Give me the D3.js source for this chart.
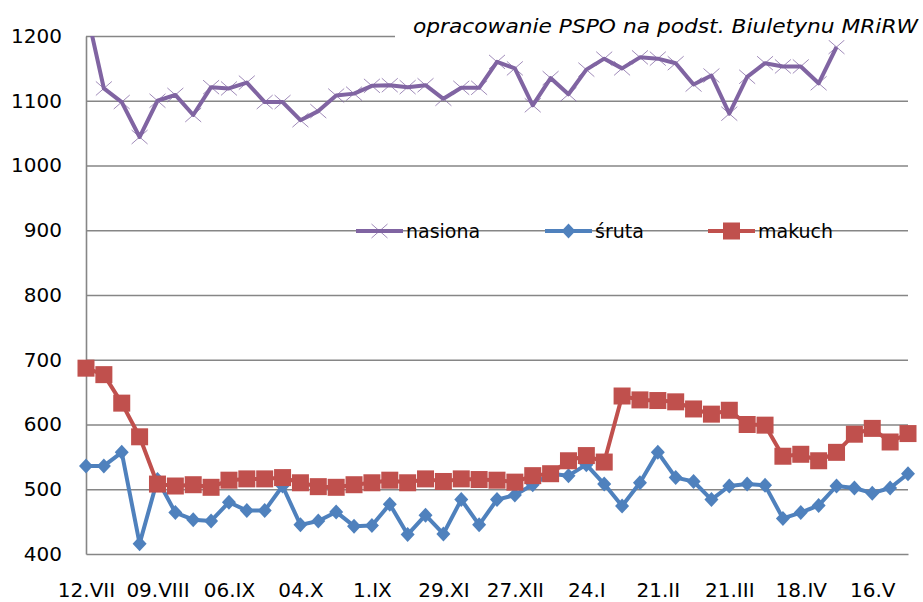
<!DOCTYPE html>
<html>
<head>
<meta charset="utf-8">
<script src="https://cdnjs.cloudflare.com/ajax/libs/d3/7.8.5/d3.min.js"></script>
<style>
    html, body { margin: 0; padding: 0; background: #fff; }
    #chart { width: 923px; height: 602px; }
    text { font-family: "DejaVu Sans", sans-serif; fill: #000; }
</style>
</head>
<body>
<div id="chart"></div>
<script>
'use strict';

// tick labels, one for every 4th weekly quotation
const weekLabels = ["12.VII", "09.VIII", "06.IX", "04.X", "1.IX", "29.XI", "27.XII", "24.I", "21.II", "21.III", "18.IV", "16.V"];
const yTicks = [400, 500, 600, 700, 800, 900, 1000, 1100, 1200];

// weekly prices (zl/t)
const nasiona = [1243, 1119, 1098, 1044, 1100, 1109, 1078, 1121, 1119, 1128, 1098, 1098, 1070, 1084, 1108, 1111,
    1123, 1124, 1121, 1124, 1103, 1120, 1120, 1160, 1150, 1093, 1135, 1110, 1148, 1165, 1150, 1167, 1165, 1158,
    1125, 1139, 1080, 1137, 1158, 1153, 1153, 1127, 1183];
const sruta = [536, 536, 557, 416, 515, 464, 453, 451, 480, 467, 467, 505, 445, 451, 465, 443, 444, 477, 430, 460,
    431, 484, 445, 484, 491, 507, 524, 521, 538, 508, 474, 510, 557, 518, 512, 484, 505, 508, 506, 455, 464, 475,
    505, 502, 494, 502, 524];
const makuch = [687, 677, 633, 581, 508, 505, 507, 503, 514, 516, 516, 518, 510, 504, 503, 507, 510, 514, 510, 516,
    512, 516, 515, 514, 511, 521, 524, 544, 552, 542, 644, 638, 637, 635, 624, 616, 622, 600, 599, 551, 554, 544,
    557, 585, 594, 573, 586];

const nWeeks = sruta.length;

const series = [
    { name: "nasiona", values: nasiona, color: "#8064A2", marker: "x" },
    { name: "śruta", values: sruta, color: "#4F81BD", marker: "diamond" },
    { name: "makuch", values: makuch, color: "#C0504D", marker: "square" }
];

const originalWidth = 923, originalHeight = 602;
const margin = { top: 36, right: 15, bottom: 48, left: 86 };
const width = originalWidth - margin.left - margin.right,
    height = originalHeight - margin.top - margin.bottom;

const svg = d3.select("#chart")
    .append("svg")
    .attr("width", originalWidth)
    .attr("height", originalHeight);

const rootG = svg.append("g")
    .attr("transform", "translate(" + margin.left + "," + margin.top + ")");

// scales
const xScale = d3.scaleLinear().domain([0, nWeeks - 1]).range([0, width]);
const yScale = d3.scaleLinear().domain([400, 1200]).range([height, 0]);

// grid
rootG.append("g")
    .attr("class", "grid")
    .call(d3.axisLeft(yScale).tickValues(yTicks.slice(1)).tickSize(-width).tickFormat(""))
    .call(g => g.select(".domain").remove())
    .call(g => g.selectAll("line").attr("stroke", "#868686").attr("stroke-width", 1.6));

// axes
rootG.append("g")
    .attr("class", "y axis")
    .call(d3.axisLeft(yScale).tickValues(yTicks).tickSize(0).tickPadding(24).tickFormat(d3.format("d")))
    .call(g => g.select(".domain").attr("stroke", "#868686").attr("stroke-width", 1.6))
    .call(g => g.selectAll("text").style("font-size", "20px").style("font-family", "DejaVu Sans"));

rootG.append("g")
    .attr("class", "x axis")
    .attr("transform", "translate(0," + height + ")")
    .call(d3.axisBottom(xScale)
        .tickValues(d3.range(0, nWeeks, 4))
        .tickSize(0)
        .tickPadding(29)
        .tickFormat(i => weekLabels[i / 4]))
    .call(g => g.select(".domain").attr("stroke", "#868686").attr("stroke-width", 1.6))
    .call(g => g.selectAll("text").style("font-size", "20px").style("font-family", "DejaVu Sans"));

// title box sits over the top grid line
svg.append("rect")
    .attr("x", 395).attr("y", 0)
    .attr("width", originalWidth - 395).attr("height", 40)
    .attr("fill", "#fff");
svg.append("text")
    .attr("x", 918).attr("y", 33)
    .attr("text-anchor", "end")
    .attr("textLength", 505)
    .attr("lengthAdjust", "spacingAndGlyphs")
    .style("font-size", "20px")
    .style("font-style", "italic")
    .text("opracowanie PSPO na podst. Biuletynu MRiRW");

// clip at the top of the plot area (first seed price is off the scale)
svg.append("defs").append("clipPath")
    .attr("id", "plotClip")
    .append("rect")
    .attr("x", -margin.left).attr("y", 0)
    .attr("width", originalWidth).attr("height", originalHeight);

const line = d3.line()
    .x((d, i) => xScale(i))
    .y(d => yScale(d));

function drawMarker(g, type, color) {
    if (type === "x") {
        g.append("path")
            .attr("d", "M-8,-7L8,7M-8,7L8,-7")
            .attr("stroke", color)
            .attr("stroke-opacity", 0.75)
            .attr("stroke-width", 1)
            .attr("fill", "none");
    } else if (type === "diamond") {
        g.append("path")
            .attr("d", "M0,-7.5L7,0L0,7.5L-7,0Z")
            .attr("fill", color);
    } else {
        g.append("rect")
            .attr("x", -8.5).attr("y", -8.5)
            .attr("width", 17).attr("height", 17)
            .attr("fill", color);
    }
}

const plot = rootG.append("g").attr("clip-path", "url(#plotClip)");

series.forEach(s => {
    const g = plot.append("g").attr("class", "category").attr("name", s.name);
    g.append("path")
        .attr("class", "line")
        .attr("d", line(s.values))
        .attr("fill", "none")
        .attr("stroke", s.color)
        .attr("stroke-width", 4)
        .attr("stroke-linejoin", "round");
    g.selectAll(".point")
        .data(s.values)
        .enter()
        .append("g")
        .attr("class", "point")
        .attr("transform", (d, i) => "translate(" + xScale(i) + "," + yScale(d) + ")")
        .each(function () { drawMarker(d3.select(this), s.marker, s.color); });
});

// legend
const legendPos = [356, 545, 708];
const legend = svg.append("g").attr("class", "legend");
series.forEach((s, i) => {
    const lg = legend.append("g").attr("transform", "translate(" + legendPos[i] + ",231)");
    lg.append("line")
        .attr("x1", 0).attr("x2", 47)
        .attr("stroke", s.color)
        .attr("stroke-width", 4);
    const m = lg.append("g").attr("transform", "translate(23.5,0)");
    drawMarker(m, s.marker, s.color);
    lg.append("text")
        .attr("x", 50).attr("y", 0)
        .attr("dy", "0.35em")
        .style("font-size", "19px")
        .text(s.name);
});
</script>
</body>
</html>
